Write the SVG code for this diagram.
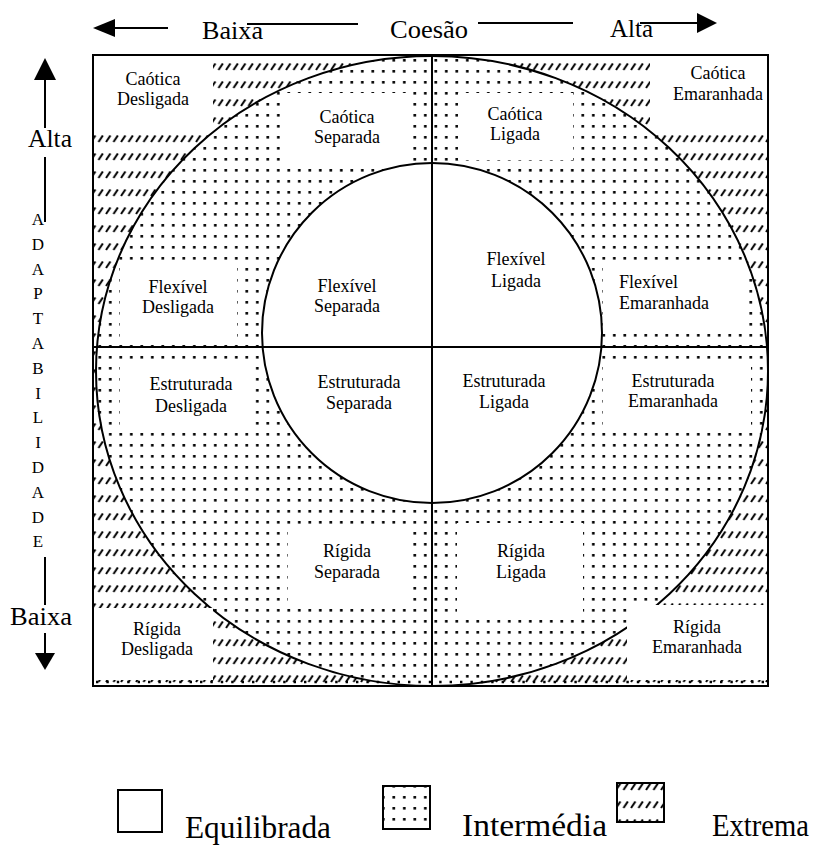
<svg xmlns="http://www.w3.org/2000/svg" width="831" height="845" viewBox="0 0 831 845">
<style>
.lbl{font-family:"Liberation Serif","Times New Roman","DejaVu Serif",serif;font-size:18px;fill:#000;text-anchor:middle}
.lbl-l{font-family:"Liberation Serif","Times New Roman","DejaVu Serif",serif;font-size:18px;fill:#000}
.ax{font-family:"Liberation Serif","Times New Roman","DejaVu Serif",serif;font-size:25px;fill:#000}
.vl{font-family:"Liberation Serif","Times New Roman","DejaVu Serif",serif;font-size:17px;fill:#000;text-anchor:middle}
.lg{font-family:"Liberation Serif","Times New Roman","DejaVu Serif",serif;font-size:31px;fill:#000}
.box{fill:#fff;stroke:none}
.ln{stroke:#000;stroke-width:2;fill:none}
</style>
<defs>
<pattern id="dots" width="10.5" height="11" patternUnits="userSpaceOnUse" x="0" y="0">
<rect x="4" y="4" width="2.6" height="2.6" fill="#000"/>
</pattern>
<pattern id="hatch" width="7.5" height="18" patternUnits="userSpaceOnUse" x="0" y="9">
<path d="M1,7 L5.4,0.5" stroke="#000" stroke-width="2"/>
</pattern>
<clipPath id="frameClip"><rect x="93" y="55" width="675" height="631"/></clipPath>
</defs>
<rect width="831" height="845" fill="#fff"/>

<g id="areas" clip-path="url(#frameClip)">
<path fill="url(#hatch)" fill-rule="evenodd" d="M93,55 H768 V686 H93 Z M96,371 a336,315 0 1,0 672,0 a336,315 0 1,0 -672,0 Z"/>
<path fill="url(#dots)" fill-rule="evenodd" d="M96,371 a336,315 0 1,0 672,0 a336,315 0 1,0 -672,0 Z M262,333 a170,170 0 1,0 340,0 a170,170 0 1,0 -340,0 Z"/>
<line x1="96" y1="682" x2="766" y2="682" stroke="#000" stroke-width="2.4" stroke-dasharray="2.4 8"/>
</g>

<g id="chart" clip-path="url(#frameClip)">
<ellipse class="ln" cx="432" cy="371" rx="336" ry="315"/>
<circle class="ln" cx="432" cy="333" r="170"/>
<line class="ln" x1="432" y1="55" x2="432" y2="686"/>
<line class="ln" x1="93" y1="347" x2="768" y2="347"/>
</g>

<g id="caotica-desligada"><rect class="box" x="94" y="56" width="119" height="74"/><text class="lbl" x="153" y="85">Caótica</text><text class="lbl" x="153" y="105">Desligada</text></g>
<g id="caotica-separada"><rect class="box" x="280" y="93" width="133" height="70"/><text class="lbl" x="347" y="123">Caótica</text><text class="lbl" x="347" y="143">Separada</text></g>
<g id="caotica-ligada"><rect class="box" x="458" y="93" width="115" height="67"/><text class="lbl" x="515" y="120">Caótica</text><text class="lbl" x="515" y="140">Ligada</text></g>
<g id="caotica-emaranhada"><rect class="box" x="650" y="56" width="117" height="69"/><text class="lbl" x="718" y="79">Caótica</text><text class="lbl" x="718" y="100">Emaranhada</text></g>

<g id="flexivel-desligada"><rect class="box" x="120" y="265" width="117" height="72"/><text class="lbl" x="178" y="293">Flexível</text><text class="lbl" x="178" y="313">Desligada</text></g>
<g id="flexivel-separada"><text class="lbl" x="347" y="292">Flexível</text><text class="lbl" x="347" y="312">Separada</text></g>
<g id="flexivel-ligada"><text class="lbl" x="516" y="265">Flexível</text><text class="lbl" x="516" y="287">Ligada</text></g>
<g id="flexivel-emaranhada"><rect class="box" x="603" y="260" width="142" height="72"/><text class="lbl-l" x="619" y="288">Flexível</text><text class="lbl-l" x="619" y="309">Emaranhada</text></g>

<g id="estruturada-desligada"><rect class="box" x="120" y="367" width="135" height="63"/><text class="lbl" x="191" y="390">Estruturada</text><text class="lbl" x="191" y="412">Desligada</text></g>
<g id="estruturada-separada"><text class="lbl" x="359" y="388">Estruturada</text><text class="lbl" x="359" y="409">Separada</text></g>
<g id="estruturada-ligada"><text class="lbl" x="504" y="387">Estruturada</text><text class="lbl" x="504" y="408">Ligada</text></g>
<g id="estruturada-emaranhada"><rect class="box" x="603" y="360" width="148" height="67"/><text class="lbl" x="673" y="387">Estruturada</text><text class="lbl" x="673" y="407">Emaranhada</text></g>

<g id="rigida-desligada"><rect class="box" x="94" y="608" width="119" height="72"/><text class="lbl" x="157" y="635">Rígida</text><text class="lbl" x="157" y="655">Desligada</text></g>
<g id="rigida-separada"><rect class="box" x="288" y="525" width="125" height="77"/><text class="lbl" x="347" y="557">Rígida</text><text class="lbl" x="347" y="578">Separada</text></g>
<g id="rigida-ligada"><rect class="box" x="457" y="523" width="126" height="89"/><text class="lbl" x="521" y="557">Rígida</text><text class="lbl" x="521" y="578">Ligada</text></g>
<g id="rigida-emaranhada"><rect class="box" x="627" y="605" width="140" height="75"/><text class="lbl" x="697" y="633">Rígida</text><text class="lbl" x="697" y="653">Emaranhada</text></g>

<g id="frame"><rect x="93" y="55" width="675" height="631" fill="none" stroke="#000" stroke-width="2"/></g>

<g id="coesao-axis">
<text class="ax" x="202" y="39" textLength="61" lengthAdjust="spacingAndGlyphs">Baixa</text>
<text class="ax" x="390" y="38" textLength="78" lengthAdjust="spacingAndGlyphs">Coesão</text>
<text class="ax" x="610" y="37" textLength="43" lengthAdjust="spacingAndGlyphs">Alta</text>
</g>
<g id="adaptabilidade-axis">
<text class="ax" x="28" y="147" textLength="44" lengthAdjust="spacingAndGlyphs">Alta</text>
<text class="ax" x="10" y="625" textLength="62" lengthAdjust="spacingAndGlyphs">Baixa</text>
<text class="vl" x="38" y="225">A</text>
<text class="vl" x="38" y="249.8">D</text>
<text class="vl" x="38" y="274.6">A</text>
<text class="vl" x="38" y="299.4">P</text>
<text class="vl" x="38" y="324.2">T</text>
<text class="vl" x="38" y="349">A</text>
<text class="vl" x="38" y="373.8">B</text>
<text class="vl" x="38" y="398.6">I</text>
<text class="vl" x="38" y="423.4">L</text>
<text class="vl" x="38" y="448.2">I</text>
<text class="vl" x="38" y="473">D</text>
<text class="vl" x="38" y="497.8">A</text>
<text class="vl" x="38" y="522.6">D</text>
<text class="vl" x="38" y="547.4">E</text>
</g>

<g id="connectors">
<polygon points="93,28 115,19 115,37" fill="#000"/>
<line class="ln" x1="114" y1="28" x2="168" y2="28"/>
<line class="ln" x1="247" y1="24" x2="358" y2="24"/>
<line class="ln" x1="478" y1="23" x2="573" y2="23"/>
<line class="ln" x1="640" y1="23" x2="698" y2="23"/>
<polygon points="697,13 717,23 697,33" fill="#000"/>
<polygon points="45,58 34,80 56,80" fill="#000"/>
<line class="ln" x1="45" y1="79" x2="45" y2="128"/>
<line class="ln" x1="45" y1="157" x2="45" y2="222"/>
<line class="ln" x1="45" y1="557" x2="45" y2="605"/>
<line class="ln" x1="45" y1="633" x2="45" y2="654"/>
<polygon points="35,653 55,653 45,670" fill="#000"/>
</g>

<g id="legend-equilibrada"><rect x="118" y="790" width="44" height="42" fill="#fff" stroke="#000" stroke-width="2"/><text class="lg" x="185" y="838" textLength="146" lengthAdjust="spacingAndGlyphs">Equilibrada</text></g>
<g id="legend-intermedia"><rect x="383" y="786" width="47" height="43" fill="url(#dots)" stroke="#000" stroke-width="2"/><text class="lg" x="462" y="836" textLength="145" lengthAdjust="spacingAndGlyphs">Intermédia</text></g>
<g id="legend-extrema"><rect x="617" y="783" width="47" height="39" fill="url(#hatch)" stroke="#000" stroke-width="2"/><text class="lg" x="712" y="836" textLength="97" lengthAdjust="spacingAndGlyphs">Extrema</text></g>
</svg>
